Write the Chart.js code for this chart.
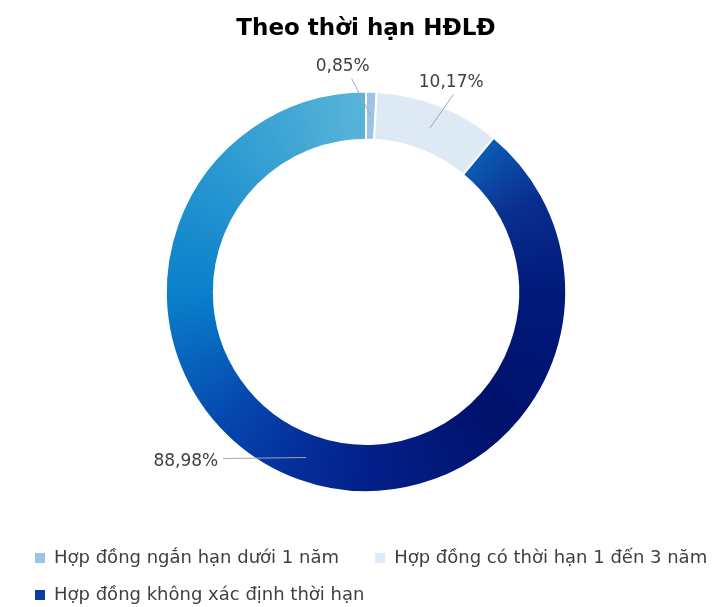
<!DOCTYPE html>
<html lang="vi">
<head>
  <meta charset="UTF-8">
  <title>Theo thời hạn HĐLĐ</title>
  <style>
    html, body { margin: 0; padding: 0; background: #fff; }
    #wrap { width: 716px; height: 607px; }
  </style>
  <script src="https://cdn.jsdelivr.net/npm/chart.js"></script>
</head>
<body>
<div id="wrap"><canvas id="hdldChart"></canvas></div>
<script>
  // Tỷ lệ lao động theo loại hợp đồng (%)
  const loaiHopDong = [
    'Hợp đồng ngắn hạn dưới 1 năm',
    'Hợp đồng có thời hạn 1 đến 3 năm',
    'Hợp đồng không xác định thời hạn'
  ];
  const tyLe = [0.85, 10.17, 88.98];
  const mauNen = ['#9dc3e6', '#dde9f5', null];

  // Phần lớn nhất tô gradient xoay quanh tâm, đậm dần theo chiều kim đồng hồ
  function mauLatCat(context) {
    const i = context.dataIndex;
    if (mauNen[i]) return mauNen[i];
    const chart = context.chart;
    const area = chart.chartArea;
    if (!area) return '#0a4aaa';
    const cx = (area.left + area.right) / 2;
    const cy = (area.top + area.bottom) / 2;
    const g = chart.ctx.createConicGradient(-Math.PI / 2, cx, cy);
    g.addColorStop(0, '#5ab4d8');
    g.addColorStop(0.1, '#0c62ba');
    g.addColorStop(0.17, '#0a2e8e');
    g.addColorStop(0.25, '#001a7a');
    g.addColorStop(0.375, '#00116c');
    g.addColorStop(0.5, '#03208a');
    g.addColorStop(0.56, '#042e9a');
    g.addColorStop(0.625, '#0544ac');
    g.addColorStop(0.75, '#0a80cc');
    g.addColorStop(0.875, '#2e9cd2');
    g.addColorStop(1, '#5ab4d8');
    return g;
  }

  // Nhãn phần trăm với đường dẫn
  const viTriNhan = [
    { dx: -19, dy: -37, tx: -9, ty: -12, align: 'center' },
    { dx: 23, dy: -33, tx: -2, ty: -12, align: 'center' },
    { dx: -83, dy: 1, tx: -5, ty: 3, align: 'right' }
  ];

  const nhanPhanTram = {
    id: 'nhanPhanTram',
    afterDatasetsDraw(chart) {
      const ctx = chart.ctx;
      const meta = chart.getDatasetMeta(0);
      ctx.save();
      meta.data.forEach((arc, i) => {
        const p = arc.getProps(['x', 'y', 'startAngle', 'endAngle', 'innerRadius', 'outerRadius'], true);
        const mid = (p.startAngle + p.endAngle) / 2;
        const r = (p.innerRadius + p.outerRadius) / 2;
        const x0 = p.x + Math.cos(mid) * r;
        const y0 = p.y + Math.sin(mid) * r;
        const v = viTriNhan[i];
        const x1 = x0 + v.dx;
        const y1 = y0 + v.dy;
        ctx.strokeStyle = '#a6a6a6';
        ctx.lineWidth = 1;
        ctx.beginPath();
        ctx.moveTo(x0, y0);
        ctx.lineTo(x1, y1);
        ctx.stroke();
        ctx.fillStyle = '#404040';
        ctx.font = '17px "DejaVu Sans", sans-serif';
        ctx.textAlign = v.align;
        ctx.textBaseline = 'middle';
        const text = tyLe[i].toFixed(2).replace('.', ',') + '%';
        ctx.fillText(text, x1 + v.tx, y1 + v.ty);
      });
      ctx.restore();
    }
  };

  // Chú thích: hai mục đầu chung một hàng, chừa khoảng trống phía trên
  const khoangChuThich = {
    id: 'khoangChuThich',
    beforeInit(chart) {
      const fit = chart.legend.fit;
      chart.legend.fit = function () {
        this.maxWidth += 40;
        fit.call(this);
        this.maxWidth -= 40;
        this.width = Math.min(this.width, this.maxWidth);
        this.height += 26;
      };
    },
    afterLayout(chart) {
      chart.legend.top += 37;
      chart.legend.bottom += 37;
      chart.legend.right += 40;
    }
  };

  new Chart(document.getElementById('hdldChart'), {
    type: 'doughnut',
    data: {
      labels: loaiHopDong,
      datasets: [{
        data: tyLe,
        backgroundColor: mauLatCat,
        borderColor: '#ffffff',
        borderWidth: 2,
        hoverOffset: 0
      }]
    },
    options: {
      responsive: true,
      maintainAspectRatio: false,
      animation: false,
      cutout: '76%',
      layout: { padding: { left: 16, right: 0, top: 0, bottom: 4 } },
      plugins: {
        title: {
          display: true,
          text: 'Theo thời hạn HĐLĐ',
          color: '#000',
          font: { family: '"DejaVu Sans", sans-serif', size: 23, weight: 'bold' },
          padding: { top: 15, bottom: 48 }
        },
        legend: {
          position: 'bottom',
          align: 'start',
          labels: {
            color: '#404040',
            font: { family: '"DejaVu Sans", sans-serif', size: 18 },
            boxWidth: 10,
            boxHeight: 10,
            padding: 19,
            generateLabels(chart) {
              const cols = ['#9dc3e6', '#dde9f5', '#0a3ea4'];
              return loaiHopDong.map((t, i) => ({
                text: i === 0 ? t + '   ' : t,
                fillStyle: cols[i], strokeStyle: cols[i],
                lineWidth: 0, fontColor: '#404040', index: i, hidden: false
              }));
            }
          }
        },
        tooltip: { enabled: false }
      }
    },
    plugins: [khoangChuThich, nhanPhanTram]
  });
</script>
</body>
</html>
